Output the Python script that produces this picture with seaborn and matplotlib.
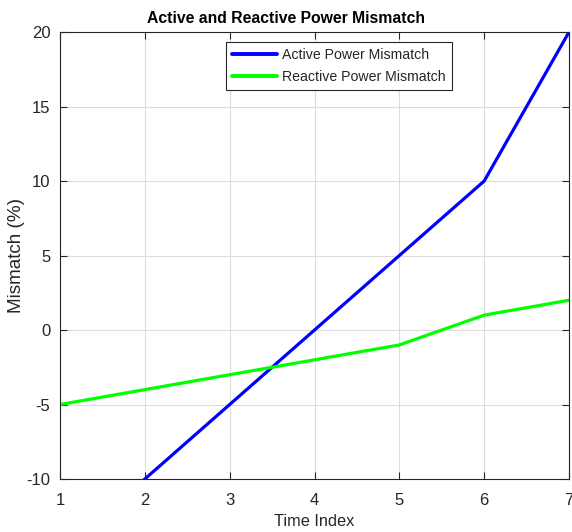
import matplotlib
matplotlib.use("Agg")
import matplotlib.pyplot as plt
import seaborn as sns
import pandas as pd

time_index = [1, 2, 3, 4, 5, 6, 7]
active_mismatch = [-15, -10, -5, 0, 5, 10, 20]
reactive_mismatch = [-5, -4, -3, -2, -1, 1, 2]
x_ticks = [1, 2, 3, 4, 5, 6, 7]
y_ticks = [-10, -5, 0, 5, 10, 15, 20]

sns.set_theme(style="whitegrid")
plt.rcParams["font.family"] = ["Liberation Sans", "DejaVu Sans"]
plt.rcParams["axes.unicode_minus"] = False

df = pd.DataFrame({
    "Time Index": time_index * 2,
    "Mismatch": active_mismatch + reactive_mismatch,
    "Series": ["Active Power Mismatch"] * 7 + ["Reactive Power Mismatch"] * 7,
})

fig = plt.figure(figsize=(5.72, 5.32), dpi=100)
ax = fig.add_axes([0.1049, 0.0996, 0.8899, 0.8402])

sns.lineplot(data=df, x="Time Index", y="Mismatch", hue="Series",
             palette={"Active Power Mismatch": "#0000ff",
                      "Reactive Power Mismatch": "#00ff00"},
             linewidth=2.3, ax=ax)

ax.set_xlim(1, 7)
ax.set_ylim(-10, 20)
ax.set_xticks(x_ticks)
ax.set_yticks(y_ticks)
ax.set_facecolor("white")
ax.grid(True, color="#dcdcdc", linewidth=0.8)
for s in ax.spines.values():
    s.set_color("#262626")
    s.set_linewidth(0.8)
ax.tick_params(axis="both", direction="in", length=5, width=0.8,
               colors="#262626", labelsize=12, labelcolor="#262626",
               top=True, right=True, bottom=True, left=True)
ax.tick_params(axis="x", pad=10)
ax.tick_params(axis="y", pad=7)

ax.set_xlabel("Time Index", fontsize=11.8, color="#262626")
ax.xaxis.set_label_coords(0.5, -0.078)
ax.set_ylabel("Mismatch (%)", fontsize=13.6, color="#262626")
ax.yaxis.set_label_coords(-0.069, 0.5)
fig.text(0.5, 0.957, "Active and Reactive Power Mismatch", ha="center",
         va="baseline", fontsize=11.3, fontweight="bold", color="black")

leg = ax.legend(loc="upper center", bbox_to_anchor=(0.548, 0.978),
                frameon=True, fancybox=False, fontsize=10.2,
                handlelength=3.2, borderpad=0.42, labelspacing=0.55,
                handletextpad=0.35, borderaxespad=0)
leg.get_frame().set_edgecolor("#262626")
leg.get_frame().set_linewidth(0.8)
leg.get_frame().set_alpha(1)
for line in leg.get_lines():
    line.set_linewidth(2.8)

fig.savefig("out.png", dpi=100)
